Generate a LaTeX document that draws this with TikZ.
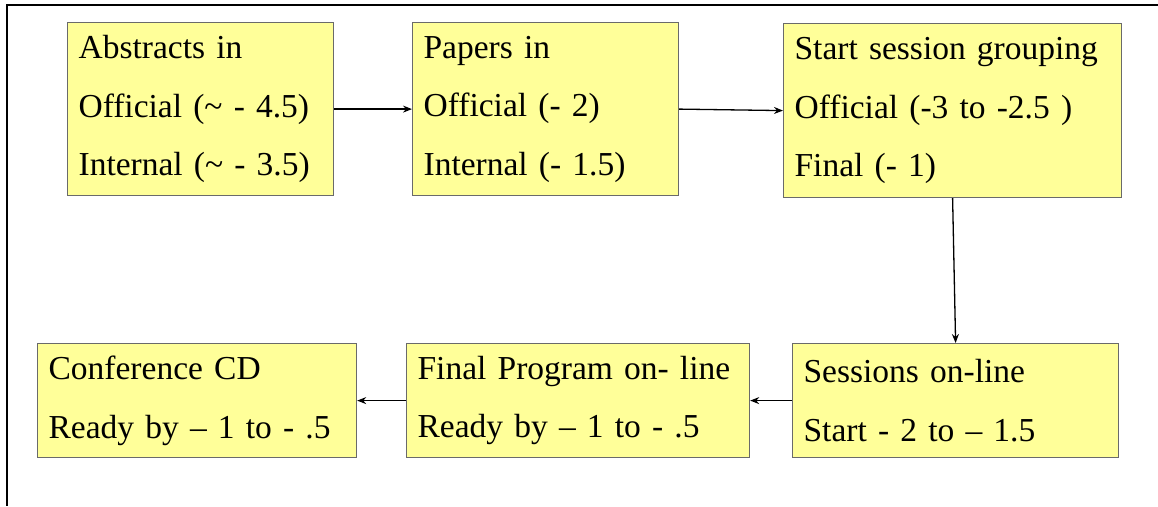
\documentclass[tikz,border=0pt]{standalone}
\usepackage{fontspec}
\setmainfont{Liberation Serif}
\usetikzlibrary{arrows.meta}
\definecolor{boxfill}{HTML}{FFFF99}
\definecolor{boxline}{HTML}{6A6A6A}

\begin{document}
\begin{tikzpicture}[
    x=1pt, y=-1pt,
    >={Stealth[length=9pt, width=7pt]},
    every node/.style={font=\fontsize{33.5}{58.5}\selectfont},
    blk/.style={draw=boxline, fill=boxfill, line width=1.2pt, anchor=north west,
                align=left, inner xsep=11pt, inner ysep=0pt},
    flow/.style={->, line width=1.3pt},
  ]
    \useasboundingbox (0,0) rectangle (1158,506);

    % frame
    \draw[line width=2pt] (1158,5) -- (7,5) -- (7,506);

    % top row
    \node[blk, text width=244pt, minimum height=173pt] (abstracts) at (67,22)
      {Abstracts in\\Official (\textasciitilde{} - 4.5)\\Internal (\textasciitilde{} - 3.5)};
    \node[blk, text width=244pt, minimum height=173pt] (papers) at (412,22)
      {Papers in\\Official (- 2)\\Internal (- 1.5)};
    \node[blk, text width=316pt, minimum height=174pt] (grouping) at (783,23)
      {Start session grouping\\Official (-3 to -2.5 )\\Final (- 1)};

    % bottom row
    \node[blk, text width=304pt, minimum height=114pt] (sessions) at (792,343)
      {Sessions on-line\\Start - 2 to – 1.5};
    \node[blk, text width=321pt, minimum height=114pt] (program) at (406,343)
      {Final Program on- line\\Ready by – 1 to - .5};
    \node[blk, text width=297pt, minimum height=114pt] (cd) at (37,343)
      {Conference CD\\Ready by – 1 to - .5};

    % arrows
    \draw[flow] (abstracts.east) -- (papers.west);
    \draw[flow] (papers.east)    -- (grouping.west);
    \draw[flow] (grouping.south) -- (sessions.north);
    \draw[flow] (sessions.west)  -- (program.east);
    \draw[flow] (program.west)   -- (cd.east);
  \end{tikzpicture}
\end{document}
